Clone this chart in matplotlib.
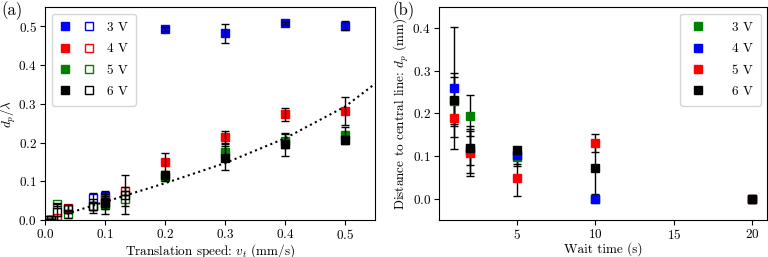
import matplotlib
matplotlib.use("Agg")
import matplotlib.pyplot as plt
import numpy as np
from matplotlib.legend_handler import HandlerTuple

plt.rcParams['font.family'] = 'serif'
plt.rcParams['font.serif'] = ['cmr10']
plt.rcParams['mathtext.fontset'] = 'cm'
plt.rcParams['axes.formatter.use_mathtext'] = True
plt.rcParams['font.size'] = 9.5
plt.rcParams['xtick.major.pad'] = 2.5
plt.rcParams['ytick.major.pad'] = 2.5

# ---- panel (a) data ----
volts = ['3 V', '4 V', '5 V', '6 V']
colors_a = ['blue', 'red', 'green', 'black']

speed_full = [0.1, 0.2, 0.3, 0.4, 0.5]
full_y = {
    '3 V': [0.062, 0.493, 0.482, 0.508, 0.502],
    '4 V': [0.055, 0.150, 0.215, 0.273, 0.282],
    '5 V': [0.038, 0.110, 0.175, 0.205, 0.220],
    '6 V': [0.045, 0.115, 0.160, 0.195, 0.207],
}
full_err = {
    '3 V': [0.005, 0.004, 0.025, 0.004, 0.012],
    '4 V': [0.008, 0.023, 0.016, 0.017, 0.036],
    '5 V': [0.010, 0.010, 0.020, 0.018, 0.020],
    '6 V': [0.030, 0.010, 0.030, 0.030, 0.010],
}
open_x = {
    '3 V': [0.005, 0.08],
    '4 V': [0.01, 0.02, 0.0375, 0.133],
    '5 V': [0.005, 0.02, 0.0375, 0.08, 0.133],
    '6 V': [0.005, 0.01, 0.02, 0.0375, 0.08, 0.133],
}
open_y = {
    '3 V': [0.0, 0.057],
    '4 V': [0.0, 0.005, 0.030, 0.075],
    '5 V': [0.0, 0.040, 0.015, 0.035, 0.055],
    '6 V': [0.0, 0.0, 0.020, 0.028, 0.035, 0.065],
}
open_err = {
    '3 V': [0.002, 0.012],
    '4 V': [0.002, 0.005, 0.008, 0.010],
    '5 V': [0.002, 0.005, 0.010, 0.010, 0.020],
    '6 V': [0.002, 0.002, 0.020, 0.010, 0.018, 0.050],
}
# dotted fit line
fit_x = [0.036, 0.1, 0.2, 0.3, 0.4, 0.5, 0.55]
fit_y = [0.016, 0.047, 0.095, 0.147, 0.211, 0.293, 0.352]

# ---- panel (b) data ----
wait = [1, 2, 5, 10, 20]
colors_b = ['green', 'blue', 'red', 'black']
dist = {
    '3 V': [0.230, 0.195, 0.097, 0.0, 0.0],
    '4 V': [0.259, 0.115, 0.102, 0.0, 0.0],
    '5 V': [0.189, 0.108, 0.049, 0.130, 0.0],
    '6 V': [0.232, 0.120, 0.114, 0.072, 0.0],
}
dist_err = {
    '3 V': [0.055, 0.048, 0.020, 0.0, 0.0],
    '4 V': [0.143, 0.055, 0.020, 0.0, 0.0],
    '5 V': [0.045, 0.055, 0.042, 0.021, 0.0],
    '6 V': [0.062, 0.040, 0.005, 0.062, 0.0],
}

fig = plt.figure(figsize=(7.68, 2.57), dpi=100)
ax1 = fig.add_axes([0.0586, 0.144, 0.430, 0.829])
ax2 = fig.add_axes([0.572, 0.144, 0.427, 0.829])

ms = 5.5
handles = []
for v, c in zip(volts, colors_a):
    f, = ax1.plot(speed_full, full_y[v], 's', color=c, ms=ms, zorder=2)
    o, = ax1.plot(open_x[v], open_y[v], 's', mfc='none', mec=c, ms=ms, mew=1.0, zorder=2)
    ax1.errorbar(speed_full, full_y[v], yerr=full_err[v], fmt='none',
                 ecolor='black', elinewidth=1, capsize=3, zorder=3)
    ax1.errorbar(open_x[v], open_y[v], yerr=open_err[v], fmt='none',
                 ecolor='black', elinewidth=1, capsize=3, zorder=3)
    handles.append((f, o))
ax1.plot(fit_x, fit_y, ':', color='black', lw=1.5, zorder=4)

ax1.set_xlim(0, 0.55)
ax1.set_ylim(0, 0.55)
ax1.set_xticks([0.0, 0.1, 0.2, 0.3, 0.4, 0.5])
ax1.set_yticks([0.0, 0.1, 0.2, 0.3, 0.4, 0.5])
ax1.set_xlabel('Translation speed: $v_t$ (mm/s)', labelpad=0)
ax1.set_ylabel(r'$d_p/\lambda$', labelpad=0)
ax1.legend(handles, volts, handler_map={tuple: HandlerTuple(ndivide=None, pad=1.0)},
           loc='upper left', handlelength=2.6, handletextpad=1.0, labelspacing=0.7,
           borderpad=0.6)

for v, c in zip(volts, colors_b):
    ax2.errorbar(wait, dist[v], yerr=dist_err[v], fmt='s', color=c, ms=ms,
                 ecolor='black', elinewidth=1, capsize=3, label=v)
ax2.set_ylim(-0.05, 0.45)
ax2.set_xticks([5, 10, 15, 20])
ax2.set_yticks([0.0, 0.1, 0.2, 0.3, 0.4])
ax2.set_xlabel('Wait time (s)', labelpad=0)
ax2.set_ylabel('Distance to central line: $d_p$ (mm)', labelpad=1)
hb, lb = ax2.get_legend_handles_labels()
hb = [h[0] for h in hb]
ax2.legend(hb, lb, loc='upper right', handlelength=1.5, handletextpad=1.8,
           labelspacing=0.7, borderpad=0.6)

fig.text(0.002, 0.995, '(a)', fontsize=12, va='top', ha='left')
fig.text(0.511, 0.995, '(b)', fontsize=12, va='top', ha='left')

fig.savefig('out.png', dpi=100)
